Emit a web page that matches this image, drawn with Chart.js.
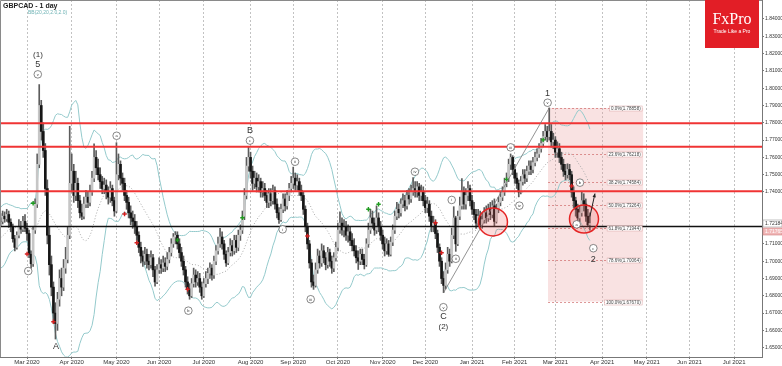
<!DOCTYPE html>
<html>
<head>
<meta charset="utf-8">
<script src="https://cdn.jsdelivr.net/npm/chart.js@4.4.1/dist/chart.umd.min.js"></script>
<style>
html,body{margin:0;padding:0;background:#fff;}
canvas{display:block;}
</style>
</head>
<body>
<canvas id="chart" width="782" height="366"></canvas>
<script>
//GBPCAD daily, bar 0 = 12 Feb 2020, one bar per trading day
const closes = [
1.7230,1.7260,1.7245,1.7270,1.7225,1.7200,1.7130,1.7080,1.7150,1.7200,
1.7185,1.7230,1.7190,1.7160,1.7040,1.6985,1.7180,1.7330,1.7560,1.7900,
1.7750,1.7640,1.7420,1.7150,1.6980,1.6850,1.6700,1.6640,1.6780,1.6900,
1.6850,1.6960,1.7010,1.7150,1.7450,1.7520,1.7380,1.7450,1.7350,1.7280,
1.7260,1.7330,1.7370,1.7340,1.7400,1.7480,1.7600,1.7540,1.7500,1.7460,
1.7420,1.7440,1.7400,1.7370,1.7420,1.7350,1.7290,1.7500,1.7560,1.7480,
1.7450,1.7380,1.7340,1.7280,1.7250,1.7230,1.7200,1.7150,1.7080,1.7030,
1.7000,1.7040,1.7000,1.6980,1.7020,1.6950,1.6880,1.6950,1.6980,1.6960,
1.6990,1.6970,1.7010,1.7050,1.7100,1.7140,1.7150,1.7100,1.7050,1.7000,
1.6950,1.6880,1.6840,1.6800,1.6870,1.6920,1.6880,1.6900,1.6850,1.6800,
1.6870,1.6900,1.6930,1.6960,1.6920,1.7000,1.7060,1.7100,1.7140,1.7100,
1.7040,1.6990,1.7050,1.7090,1.7060,1.7120,1.7080,1.7150,1.7180,1.7260,
1.7380,1.7550,1.7600,1.7520,1.7450,1.7480,1.7430,1.7460,1.7400,1.7420,
1.7380,1.7340,1.7390,1.7350,1.7410,1.7330,1.7280,1.7240,1.7300,1.7360,
1.7320,1.7380,1.7420,1.7450,1.7480,1.7440,1.7460,1.7410,1.7380,1.7300,
1.7200,1.7100,1.6990,1.6880,1.6860,1.6950,1.7030,1.6990,1.7060,1.7020,
1.6980,1.7050,1.7000,1.6960,1.7020,1.7080,1.7180,1.7220,1.7180,1.7200,
1.7150,1.7170,1.7120,1.7090,1.7060,1.7020,1.7000,1.7040,1.7010,1.6980,
1.7100,1.7180,1.7250,1.7220,1.7180,1.7250,1.7200,1.7150,1.7100,1.7060,
1.7100,1.7040,1.7110,1.7180,1.7260,1.7300,1.7280,1.7330,1.7350,1.7320,
1.7380,1.7360,1.7400,1.7420,1.7400,1.7430,1.7380,1.7400,1.7350,1.7310,
1.7330,1.7260,1.7200,1.7220,1.7160,1.7080,1.7000,1.6900,1.6860,1.6950,
1.7040,1.7000,1.7150,1.7250,1.7100,1.7260,1.7320,1.7400,1.7330,1.7380,
1.7420,1.7350,1.7300,1.7270,1.7220,1.7260,1.7210,1.7240,1.7280,1.7250,
1.7300,1.7270,1.7320,1.7230,1.7300,1.7340,1.7370,1.7400,1.7450,1.7480,
1.7560,1.7600,1.7530,1.7480,1.7450,1.7400,1.7460,1.7500,1.7480,1.7520,
1.7550,1.7530,1.7570,1.7600,1.7620,1.7650,1.7680,1.7720,1.7750,1.7720,
1.7750,1.7690,1.7700,1.7630,1.7650,1.7600,1.7560,1.7520,1.7500,1.7530,
1.7500,1.7400,1.7350,1.7300,1.7250,1.7280,1.7350,1.7330,1.7260,1.7210,
1.7218
];
const highs = [
1.7275,1.7290,1.7285,1.7300,1.7290,1.7245,1.7215,1.7150,1.7170,1.7240,
1.7230,1.7260,1.7270,1.7220,1.7180,1.7060,1.7200,1.7360,1.7620,1.8021,
1.7930,1.7800,1.7680,1.7470,1.7200,1.7030,1.6880,1.6760,1.6820,1.6950,
1.6960,1.7010,1.7080,1.7200,1.7780,1.7620,1.7560,1.7520,1.7480,1.7380,
1.7330,1.7370,1.7410,1.7400,1.7440,1.7520,1.7678,1.7640,1.7590,1.7540,
1.7490,1.7480,1.7470,1.7430,1.7460,1.7440,1.7370,1.7685,1.7620,1.7580,
1.7510,1.7480,1.7410,1.7370,1.7320,1.7290,1.7270,1.7230,1.7170,1.7110,
1.7060,1.7080,1.7070,1.7040,1.7060,1.7040,1.6970,1.6980,1.7020,1.7010,
1.7030,1.7020,1.7050,1.7080,1.7130,1.7160,1.7171,1.7170,1.7130,1.7080,
1.7030,1.6970,1.6910,1.6870,1.6900,1.6960,1.6950,1.6940,1.6930,1.6880,
1.6900,1.6940,1.6960,1.6990,1.6980,1.7030,1.7090,1.7140,1.7190,1.7170,
1.7120,1.7060,1.7080,1.7130,1.7120,1.7150,1.7150,1.7180,1.7210,1.7290,
1.7420,1.7600,1.7662,1.7630,1.7550,1.7520,1.7510,1.7500,1.7480,1.7460,
1.7450,1.7410,1.7420,1.7420,1.7440,1.7430,1.7360,1.7310,1.7330,1.7390,
1.7390,1.7410,1.7450,1.7490,1.7544,1.7510,1.7500,1.7480,1.7440,1.7400,
1.7320,1.7220,1.7120,1.7010,1.6920,1.6990,1.7070,1.7060,1.7100,1.7090,
1.7050,1.7080,1.7070,1.7030,1.7050,1.7110,1.7220,1.7286,1.7250,1.7240,
1.7230,1.7210,1.7200,1.7160,1.7130,1.7090,1.7060,1.7070,1.7070,1.7040,
1.7130,1.7220,1.7300,1.7290,1.7250,1.7320,1.7280,1.7230,1.7180,1.7140,
1.7130,1.7120,1.7140,1.7210,1.7290,1.7340,1.7330,1.7360,1.7390,1.7380,
1.7410,1.7420,1.7440,1.7483,1.7460,1.7460,1.7450,1.7440,1.7430,1.7380,
1.7370,1.7350,1.7290,1.7260,1.7240,1.7180,1.7100,1.7020,1.6940,1.6990,
1.7080,1.7070,1.7190,1.7315,1.7260,1.7290,1.7370,1.7477,1.7430,1.7420,
1.7460,1.7440,1.7380,1.7340,1.7300,1.7300,1.7290,1.7280,1.7310,1.7320,
1.7330,1.7340,1.7350,1.7360,1.7330,1.7370,1.7400,1.7430,1.7480,1.7510,
1.7590,1.7620,1.7610,1.7560,1.7510,1.7470,1.7490,1.7530,1.7530,1.7550,
1.7580,1.7580,1.7600,1.7630,1.7650,1.7680,1.7710,1.7750,1.7790,1.7780,
1.7886,1.7790,1.7740,1.7720,1.7690,1.7680,1.7630,1.7590,1.7560,1.7563,
1.7560,1.7520,1.7430,1.7370,1.7330,1.7320,1.7400,1.7390,1.7360,1.7300,
1.7280
];
const lows = [
1.7205,1.7215,1.7225,1.7230,1.7195,1.7170,1.7110,1.7060,1.7070,1.7135,
1.7160,1.7170,1.7170,1.7120,1.7020,1.6960,1.6970,1.7160,1.7310,1.7540,
1.7700,1.7600,1.7380,1.7100,1.6920,1.6800,1.6640,1.6550,1.6600,1.6740,
1.6800,1.6830,1.6930,1.6990,1.7130,1.7400,1.7340,1.7350,1.7310,1.7250,
1.7240,1.7245,1.7310,1.7310,1.7320,1.7380,1.7460,1.7500,1.7470,1.7420,
1.7390,1.7390,1.7360,1.7330,1.7340,1.7320,1.7260,1.7280,1.7470,1.7440,
1.7410,1.7350,1.7300,1.7250,1.7210,1.7190,1.7160,1.7120,1.7050,1.6990,
1.6970,1.6980,1.6960,1.6950,1.6960,1.6910,1.6856,1.6870,1.6930,1.6930,
1.6940,1.6940,1.6950,1.6990,1.7030,1.7080,1.7100,1.7070,1.7020,1.6970,
1.6920,1.6850,1.6810,1.6780,1.6790,1.6850,1.6850,1.6860,1.6820,1.6780,
1.6790,1.6850,1.6870,1.6900,1.6890,1.6900,1.6980,1.7040,1.7080,1.7070,
1.7010,1.6970,1.6980,1.7030,1.7030,1.7040,1.7050,1.7060,1.7120,1.7160,
1.7240,1.7360,1.7520,1.7480,1.7410,1.7420,1.7400,1.7400,1.7370,1.7370,
1.7350,1.7310,1.7310,1.7320,1.7330,1.7300,1.7250,1.7219,1.7230,1.7280,
1.7290,1.7300,1.7350,1.7400,1.7420,1.7410,1.7410,1.7380,1.7350,1.7270,
1.7170,1.7070,1.6960,1.6850,1.6837,1.6850,1.6930,1.6960,1.6970,1.6990,
1.6950,1.6960,1.6970,1.6930,1.6940,1.7000,1.7060,1.7160,1.7150,1.7140,
1.7120,1.7110,1.7090,1.7060,1.7030,1.6990,1.6952,1.6980,1.6980,1.6955,
1.6970,1.7080,1.7160,1.7190,1.7150,1.7160,1.7170,1.7120,1.7070,1.7030,
1.7040,1.7028,1.7030,1.7090,1.7160,1.7240,1.7250,1.7260,1.7310,1.7290,
1.7300,1.7330,1.7340,1.7380,1.7370,1.7370,1.7350,1.7350,1.7320,1.7280,
1.7280,1.7230,1.7170,1.7170,1.7130,1.7050,1.6970,1.6870,1.6818,1.6840,
1.6930,1.6970,1.6990,1.7130,1.7057,1.7090,1.7240,1.7300,1.7300,1.7300,
1.7350,1.7320,1.7270,1.7240,1.7190,1.7200,1.7190,1.7190,1.7220,1.7220,
1.7230,1.7240,1.7250,1.7200,1.7220,1.7280,1.7320,1.7350,1.7380,1.7430,
1.7460,1.7530,1.7500,1.7450,1.7420,1.7372,1.7390,1.7440,1.7450,1.7460,
1.7500,1.7500,1.7510,1.7550,1.7580,1.7600,1.7630,1.7660,1.7700,1.7690,
1.7700,1.7660,1.7650,1.7600,1.7600,1.7570,1.7530,1.7490,1.7470,1.7480,
1.7470,1.7370,1.7310,1.7260,1.7219,1.7230,1.7260,1.7290,1.7230,1.7200,
1.7180
];
const firstOpen = 1.7250;
//closes before bar 0, only used to start the bands
const history = [1.7050,1.7020,1.6990,1.7010,1.7060,1.7080,1.7040,1.7100,1.7130,1.7090,
1.7150,1.7180,1.7160,1.7200,1.7240,1.7210,1.7250,1.7270,1.7240];

//axis
const monthStarts = [13,35,57,78,100,123,144,166,188,209,232,253,273,296,318,339,361];
const monthLabels = ["Mar 2020","Apr 2020","May 2020","Jun 2020","Jul 2020","Aug 2020","Sep 2020",
"Oct 2020","Nov 2020","Dec 2020","Jan 2021","Feb 2021","Mar 2021","Apr 2021","May 2021","Jun 2021","Jul 2021"];
const priceTicks = [1.84,1.83,1.82,1.81,1.80,1.79,1.78,1.77,1.76,1.75,1.74,1.71,1.70,1.69,1.68,1.67,1.66,1.65];

//levels
const redLevels = [1.7798, 1.7662, 1.7404];
const supportLevel = 1.72;
const fibPcts = ["0.0%","23.6%","38.2%","50.0%","61.8%","78.6%","100.0%"];
const fibPrices = [1.78858,1.76218,1.74584,1.73264,1.71944,1.70064,1.67670];
const fibFrom = 269.4, fibTo = 316.2;
const askPrice = 1.72184, bidPrice = 1.71765;

//wave count [bar, price, text, circled]
const waveLabels = [
[18.4,1.8192,"(1)",0],[18.3,1.8134,"5",0],[18.3,1.8080,"v",1],[13.6,1.6943,"iv",1],
[27.3,1.6504,"A",0],[57.1,1.7725,"a",1],[92.4,1.6714,"b",1],[122.7,1.7758,"B",0],
[122.7,1.7697,"c",1],[138.8,1.7184,"i",1],[144.9,1.7575,"ii",1],[152.6,1.6780,"iii",1],
[203.9,1.7517,"iv",1],[217.9,1.6734,"v",1],[217.9,1.6679,"C",0],[217.9,1.6621,"(2)",0],
[222,1.7354,"i",1],[224,1.7014,"ii",1],[251,1.7658,"iii",1],[255.3,1.7321,"iv",1],
[269.2,1.7971,"1",0],[269.2,1.7916,"v",1],[283.5,1.7213,"a",1],[285.1,1.7454,"b",1],
[291.7,1.7075,"c",1],[291.7,1.7011,"2",0]
];
const greenMarks = [[16,1.7335],[87,1.7122],[119,1.7251],[181,1.7300],[186,1.7329],[249,1.7473],[267,1.7701]];
const redMarks = [[13,1.7042],[26,1.6650],[61,1.7273],[67,1.7107],[92,1.6838],[151,1.7146],[214,1.7222],[217,1.7049],[281,1.7435]];
const zones = [[242.3,1.7227],[287.1,1.7244]];
const waveLine = [[218,1.6818],[270,1.7886]];
const arrow = [[290,1.7258],[292.5,1.7391]];

const FONT = '"Liberation Sans", Arial, sans-serif';
Chart.defaults.font.family = FONT;

const opens = closes.map((c, i) => i === 0 ? firstOpen : closes[i - 1]);

//bollinger 20 / 2
const allCloses = history.concat(closes);
const bbMid = [], bbUp = [], bbLow = [];
for (let i = 0; i < closes.length; i++) {
  const k = i + history.length;
  const win = allCloses.slice(k - 19, k + 1);
  const m = win.reduce((a, b) => a + b, 0) / win.length;
  const sd = Math.sqrt(win.reduce((a, b) => a + (b - m) * (b - m), 0) / win.length);
  bbMid.push({x: i, y: m});
  bbUp.push({x: i, y: m + 2 * sd});
  bbLow.push({x: i, y: m - 2 * sd});
}

const overlay = {
  id: "overlay",
  beforeDatasetsDraw(chart) {
    const {ctx, scales: {x, y}} = chart;
    const x0 = x.getPixelForValue(fibFrom), x1 = x.getPixelForValue(fibTo);
    const yt = y.getPixelForValue(fibPrices[0]);
    const yb = y.getPixelForValue(fibPrices[fibPrices.length - 1]);
    ctx.save();
    ctx.fillStyle = "rgba(232,150,150,0.28)";
    ctx.fillRect(x0, yt, x1 - x0, yb - yt);
    ctx.strokeStyle = "rgba(205,100,100,0.85)";
    ctx.lineWidth = 0.8;
    ctx.setLineDash([2, 2]);
    fibPrices.forEach(p => {
      const yy = Math.round(y.getPixelForValue(p)) + 0.5;
      ctx.beginPath(); ctx.moveTo(x0, yy); ctx.lineTo(x1, yy); ctx.stroke();
    });
    ctx.restore();
  },
  afterDatasetsDraw(chart) {
    const {ctx, chartArea: a, scales: {x, y}} = chart;
    const px = v => x.getPixelForValue(v), py = v => y.getPixelForValue(v);
    ctx.save();
    ctx.beginPath(); ctx.rect(a.left, a.top, a.width, a.height); ctx.clip();

    //levels
    ctx.strokeStyle = "#f03434"; ctx.lineWidth = 2;
    redLevels.forEach(p => {
      ctx.beginPath(); ctx.moveTo(a.left, py(p)); ctx.lineTo(a.right, py(p)); ctx.stroke();
    });
    ctx.strokeStyle = "#111"; ctx.lineWidth = 1.5;
    ctx.beginPath(); ctx.moveTo(a.left, py(supportLevel)); ctx.lineTo(a.right, py(supportLevel)); ctx.stroke();

    //wave line
    ctx.strokeStyle = "#777"; ctx.lineWidth = 0.8;
    ctx.beginPath(); ctx.moveTo(px(waveLine[0][0]), py(waveLine[0][1]));
    ctx.lineTo(px(waveLine[1][0]), py(waveLine[1][1])); ctx.stroke();

    //zones
    zones.forEach(z => {
      ctx.beginPath(); ctx.ellipse(px(z[0]), py(z[1]), 14.5, 14, 0, 0, Math.PI * 2);
      ctx.fillStyle = "rgba(240,90,90,0.22)"; ctx.fill();
      ctx.strokeStyle = "#e52424"; ctx.lineWidth = 1.5; ctx.stroke();
    });

    //arrow
    const ax0 = px(arrow[0][0]), ay0 = py(arrow[0][1]), ax1 = px(arrow[1][0]), ay1 = py(arrow[1][1]);
    const ang = Math.atan2(ay1 - ay0, ax1 - ax0);
    ctx.strokeStyle = "#222"; ctx.fillStyle = "#222"; ctx.lineWidth = 1;
    ctx.beginPath(); ctx.moveTo(ax0, ay0); ctx.lineTo(ax1, ay1); ctx.stroke();
    ctx.beginPath(); ctx.moveTo(ax1, ay1);
    ctx.lineTo(ax1 - 4 * Math.cos(ang - 0.45), ay1 - 4 * Math.sin(ang - 0.45));
    ctx.lineTo(ax1 - 4 * Math.cos(ang + 0.45), ay1 - 4 * Math.sin(ang + 0.45));
    ctx.closePath(); ctx.fill();

    //fib labels
    ctx.font = "4.5px " + FONT;
    ctx.textBaseline = "middle"; ctx.textAlign = "left";
    const fx = px(fibTo);
    fibPrices.forEach((p, k) => {
      const t = fibPcts[k] + "(" + p.toFixed(5) + ")";
      const w = ctx.measureText(t).width + 3;
      const yy = Math.round(py(p)) + 0.5;
      ctx.fillStyle = "#fff"; ctx.fillRect(fx - w - 1, yy - 2.5, w, 5);
      ctx.strokeStyle = "#d9a3a3"; ctx.lineWidth = 0.5; ctx.strokeRect(fx - w - 1, yy - 2.5, w, 5);
      ctx.fillStyle = "#444"; ctx.fillText(t, fx - w + 0.5, yy + 0.3);
    });

    //wave labels
    ctx.textAlign = "center";
    waveLabels.forEach(l => {
      const lx = px(l[0]), ly = py(l[1]);
      if (l[3]) {
        ctx.beginPath(); ctx.arc(lx, ly, 3.8, 0, Math.PI * 2);
        ctx.fillStyle = "#fff"; ctx.fill();
        ctx.strokeStyle = "#555"; ctx.lineWidth = 0.7; ctx.stroke();
        ctx.fillStyle = "#333"; ctx.font = "4px " + FONT;
        ctx.fillText(l[2], lx, ly + 0.3);
      } else {
        ctx.fillStyle = "#333";
        ctx.font = (l[2].length > 1 ? "8px " : "9px ") + FONT;
        ctx.fillText(l[2], lx, ly);
      }
    });
    ctx.restore();
  },
  afterDraw(chart) {
    const {ctx, chartArea: a, scales: {y}} = chart;
    ctx.save();
    //frame
    ctx.strokeStyle = "#8a8a8a"; ctx.lineWidth = 1;
    ctx.beginPath(); ctx.moveTo(0.5, a.bottom); ctx.lineTo(0.5, 0.5); ctx.lineTo(a.right, 0.5); ctx.stroke();

    //title
    ctx.textAlign = "left"; ctx.textBaseline = "middle";
    ctx.fillStyle = "#222"; ctx.font = "bold 7px " + FONT;
    ctx.fillText("GBPCAD - 1 day", 3, 6);
    ctx.fillStyle = "#6fb3b5"; ctx.font = "5px " + FONT;
    ctx.fillText("BB(20,20,2.0,2.0)", 28, 13);

    //logo
    ctx.fillStyle = "#e21e26"; ctx.fillRect(705, 0, 54, 48);
    ctx.fillStyle = "#fff"; ctx.textAlign = "center";
    ctx.font = '16px "Liberation Serif", serif';
    ctx.fillText("FxPro", 732, 20);
    ctx.font = "5px " + FONT;
    ctx.fillText("Trade Like a Pro", 732, 32);

    //price boxes
    ctx.font = "5px " + FONT; ctx.textAlign = "left";
    [[askPrice, "#fff", "#999", "#333"], [bidPrice, "#f0b6b6", "#d08080", "#fff"]].forEach(b => {
      const yy = Math.round(y.getPixelForValue(b[0])) + 0.5;
      ctx.fillStyle = b[1]; ctx.fillRect(a.right + 1, yy - 3.5, 19, 7);
      ctx.strokeStyle = b[2]; ctx.lineWidth = 0.6; ctx.strokeRect(a.right + 1, yy - 3.5, 19, 7);
      ctx.fillStyle = b[3]; ctx.fillText(b[0].toFixed(5), a.right + 3, yy + 0.3);
    });
    ctx.restore();
  }
};

new Chart(document.getElementById("chart"), {
  type: "bar",
  data: {
    datasets: [
      {
        type: "bar",
        data: closes.map((c, i) => ({x: i, y: [lows[i], highs[i]]})),
        backgroundColor: "#5c5c5c",
        barThickness: 1,
        grouped: false,
        order: 2
      },
      {
        type: "bar",
        data: closes.map((c, i) => ({x: i, y: [Math.min(opens[i], c), Math.max(opens[i], c)]})),
        backgroundColor: closes.map((c, i) => c < opens[i] ? "#161616" : "#c6c6c6"),
        barThickness: 2,
        minBarLength: 1,
        grouped: false,
        order: 1
      },
      {type: "line", data: bbUp, borderColor: "#94cacc", borderWidth: 1, pointRadius: 0, order: 5},
      {type: "line", data: bbLow, borderColor: "#94cacc", borderWidth: 1, pointRadius: 0, order: 5},
      {type: "line", data: bbMid, borderColor: "#a8a8a8", borderWidth: 1, borderDash: [1, 2], pointRadius: 0, order: 5},
      {
        type: "scatter",
        data: greenMarks.map(m => ({x: m[0], y: m[1]})),
        pointStyle: "cross", pointRadius: 2.2, borderColor: "#1f9b1f", borderWidth: 1.4, order: 0
      },
      {
        type: "scatter",
        data: redMarks.map(m => ({x: m[0], y: m[1]})),
        pointStyle: "cross", pointRadius: 2.2, borderColor: "#d42020", borderWidth: 1.4, order: 0
      }
    ]
  },
  options: {
    responsive: false,
    devicePixelRatio: 1,
    animation: false,
    events: [],
    layout: {padding: 0, autoPadding: false},
    plugins: {
      legend: {display: false},
      tooltip: {enabled: false}
    },
    scales: {
      x: {
        type: "linear",
        min: -0.3,
        max: 374.7,
        offset: false,
        afterBuildTicks: s => { s.ticks = monthStarts.map(v => ({value: v})); },
        afterFit: s => { s.height = 9; s.paddingLeft = 0; s.paddingRight = 0; },
        ticks: {
          autoSkip: false, maxRotation: 0, padding: 0,
          color: "#333", font: {size: 6},
          callback: v => monthLabels[monthStarts.indexOf(v)]
        },
        grid: {offset: false, color: "#c2c2c2", tickLength: 2, tickColor: "#777"},
        border: {display: true, color: "#777", dash: [2, 2]}
      },
      y: {
        position: "right",
        min: 1.64462,
        max: 1.85098,
        afterBuildTicks: s => { s.ticks = priceTicks.map(v => ({value: v})); },
        afterFit: s => { s.width = 20; s.paddingTop = 0; s.paddingBottom = 0; },
        ticks: {
          padding: 1, color: "#333", font: {size: 5},
          callback: v => v.toFixed(5)
        },
        grid: {drawOnChartArea: false, tickLength: 2, tickColor: "#777"},
        border: {color: "#777"}
      }
    }
  },
  plugins: [overlay]
});
</script>
</body>
</html>
